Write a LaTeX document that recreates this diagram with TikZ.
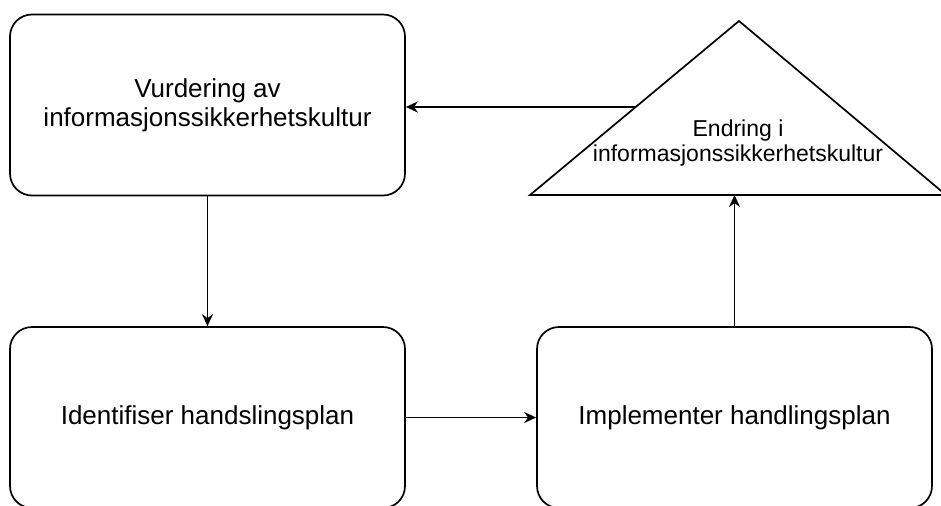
\documentclass[tikz,border=0pt]{standalone}
\usepackage{fontspec}
\setmainfont{Liberation Sans}
\usetikzlibrary{arrows.meta}
\begin{document}
\begin{tikzpicture}[x=0.5pt,y=-0.5pt,line width=0.85pt,
  every node/.style={font=\fontsize{13}{14.5}\selectfont,align=center},
  stepbox/.style={draw,rounded corners=11pt,minimum width=197.5pt,minimum height=90.5pt,inner sep=0pt},
  flow/.style={-{Stealth[length=6pt,width=5.5pt]}}]
\useasboundingbox (0,0) rectangle (941,505);
\clip (0,0) rectangle (941,505);
\node[stepbox] (vurd) at (207.5,105) {Vurdering av\\ informasjonssikkerhetskultur};
\node[stepbox] (ident) at (207.5,417.5) {Identifiser handslingsplan};
\node[stepbox] (impl) at (734.5,417.5) {Implementer handlingsplan};
\draw (530,195) coordinate (tL) -- (739,21) coordinate (tA) -- (946,195) coordinate (tR) -- cycle;
\coordinate (tS) at (636,107);
\node[font=\fontsize{11.5}{12.8}\selectfont] (endr) at (738,143) {Endring i\\ informasjonssikkerhetskultur};
\draw[flow] (vurd.south) -- (ident.north);
\draw[flow] (ident.east) -- (impl.west);
\draw[flow] (impl.north) -- (impl.north |- tL);
\draw[flow] (tS) -- (vurd.east |- tS);
\end{tikzpicture}
\end{document}
